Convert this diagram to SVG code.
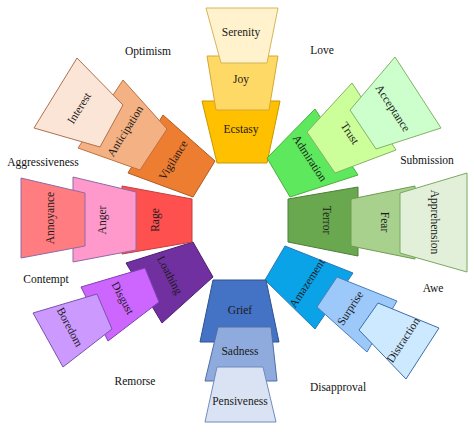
<svg xmlns="http://www.w3.org/2000/svg" width="474" height="432" viewBox="0 0 474 432">
<style>
.p{stroke-width:1;stroke-linejoin:miter}
.t{font-family:"Liberation Serif","Times New Roman",serif;font-size:11.5px;fill:#1a1a1a;text-anchor:middle;dominant-baseline:central}
.o{font-family:"Liberation Serif","Times New Roman",serif;font-size:11.5px;fill:#111;text-anchor:middle;dominant-baseline:central}
</style>
<rect width="474" height="432" fill="#fff"/>
<!-- top stack -->
<g id="ecstasy"><polygon class="p" points="202,101 280,101 267,163 217,163" fill="#FFC000" stroke="#C99700"/><text class="t" x="241" y="129">Ecstasy</text></g>
<g id="joy"><polygon class="p" points="207,56 278,56 269,110 216,110" fill="#FFD966" stroke="#D6A732"/><text class="t" x="241" y="79">Joy</text></g>
<g id="serenity"><polygon class="p" points="206,8 278,8 267,63 221,63" fill="#FFF2CC" stroke="#D6B656"/><text class="t" x="241" y="32">Serenity</text></g>
<!-- top-right -->
<g id="admiration"><polygon class="p" points="315,109 358,175 290,197 267,158" fill="#5DE85D" stroke="#4CAF3C"/><text class="t" x="310" y="158" transform="rotate(57 310 158)">Admiration</text></g>
<g id="trust"><polygon class="p" points="352,83 396,150 335,173 307,132" fill="#CCFF99" stroke="#82B366"/><text class="t" x="350" y="133" transform="rotate(57 350 133)">Trust</text></g>
<g id="acceptance"><polygon class="p" points="395,57 441,128 376,149 350,110" fill="#CCFFCC" stroke="#82B366"/><text class="t" x="393" y="108" transform="rotate(57 393 108)">Acceptance</text></g>
<!-- right -->
<g id="terror"><polygon class="p" points="288,199 358,187 358,256 288,242" fill="#6AA84F" stroke="#4E7F3A"/><text class="t" x="327" y="220" transform="rotate(90 327 220)">Terror</text></g>
<g id="fear"><polygon class="p" points="351,199 415,186 415,259 351,246" fill="#A9D18E" stroke="#6E9B50"/><text class="t" x="385" y="222" transform="rotate(90 385 222)">Fear</text></g>
<g id="apprehension"><polygon class="p" points="400,193 467,173 467,272 400,253" fill="#E2F0D9" stroke="#7AA862"/><text class="t" x="435" y="222" transform="rotate(90 435 222)">Apprehension</text></g>
<!-- bottom-right -->
<g id="amazement"><polygon class="p" points="285,246 353,273 315,329 265,280" fill="#0AA3E8" stroke="#2E75B6"/><text class="t" x="307" y="283" transform="rotate(-57 307 283)">Amazement</text></g>
<g id="surprise"><polygon class="p" points="337,277 397,301 367,352 317,307" fill="#9DC8FA" stroke="#4A7EBB"/><text class="t" x="350" y="308" transform="rotate(-57 350 308)">Surprise</text></g>
<g id="distraction"><polygon class="p" points="378,303 439,328 406,379 359,330" fill="#CDE9FF" stroke="#3C6FA8"/><text class="t" x="403" y="340" transform="rotate(-57 403 340)">Distraction</text></g>
<!-- bottom -->
<g id="grief"><polygon class="p" points="213,280 266,280 279,342 200,342" fill="#4472C4" stroke="#2F528F"/><text class="t" x="240" y="310">Grief</text></g>
<g id="sadness"><polygon class="p" points="218,327 271,327 277,381 205,381" fill="#8FAADC" stroke="#4F6FA8"/><text class="t" x="240" y="351">Sadness</text></g>
<g id="pensiveness"><polygon class="p" points="217,367 263,367 276,422 205,422" fill="#DAE3F3" stroke="#6F8BBF"/><text class="t" x="240" y="401">Pensiveness</text></g>
<!-- bottom-left -->
<g id="loathing"><polygon class="p" points="193,242 213,277 162,323 126,263" fill="#7030A0" stroke="#4F1F75"/><text class="t" x="170" y="275" transform="rotate(62 170 275)">Loathing</text></g>
<g id="disgust"><polygon class="p" points="145,268 159,302 108,341 81,287" fill="#CC66FF" stroke="#8040B0"/><text class="t" x="123" y="298" transform="rotate(62 123 298)">Disgust</text></g>
<g id="boredom"><polygon class="p" points="97,294 112,329 63,367 33,313" fill="#CC99FF" stroke="#7B52AB"/><text class="t" x="70" y="327" transform="rotate(62 70 327)">Boredom</text></g>
<!-- left -->
<g id="rage"><polygon class="p" points="122,186 192,199 192,242 122,254" fill="#FF5050" stroke="#C04040"/><text class="t" x="155" y="220" transform="rotate(-90 155 220)">Rage</text></g>
<g id="anger"><polygon class="p" points="73,177 136,192 136,250 73,262" fill="#FF99CC" stroke="#8E6AA8"/><text class="t" x="102" y="220" transform="rotate(-90 102 220)">Anger</text></g>
<g id="annoyance"><polygon class="p" points="21,178 85,193 85,246 21,258" fill="#FF7C80" stroke="#8E6AA8"/><text class="t" x="50" y="218" transform="rotate(-90 50 218)">Annoyance</text></g>
<!-- top-left -->
<g id="vigilance"><polygon class="p" points="163,115 215,161 193,197 128,173" fill="#ED7D31" stroke="#B35A1F"/><text class="t" x="173" y="160" transform="rotate(-58 173 160)">Vigilance</text></g>
<g id="anticipation"><polygon class="p" points="123,80 167,129 140,170 78,148" fill="#F4B183" stroke="#C07040"/><text class="t" x="125" y="131" transform="rotate(-58 125 131)">Anticipation</text></g>
<g id="interest"><polygon class="p" points="77,58 123,105 100,147 34,128" fill="#FBE5D6" stroke="#B07050"/><text class="t" x="79" y="108" transform="rotate(-58 79 108)">Interest</text></g>
<!-- outer labels -->
<g id="labels">
<text class="o" x="148" y="51">Optimism</text>
<text class="o" x="322" y="50">Love</text>
<text class="o" x="427" y="160">Submission</text>
<text class="o" x="433" y="288">Awe</text>
<text class="o" x="338" y="387">Disapproval</text>
<text class="o" x="135" y="381">Remorse</text>
<text class="o" x="46" y="279">Contempt</text>
<text class="o" x="43" y="162">Aggressiveness</text>
</g>
<g id="connectors"></g>
</svg>
